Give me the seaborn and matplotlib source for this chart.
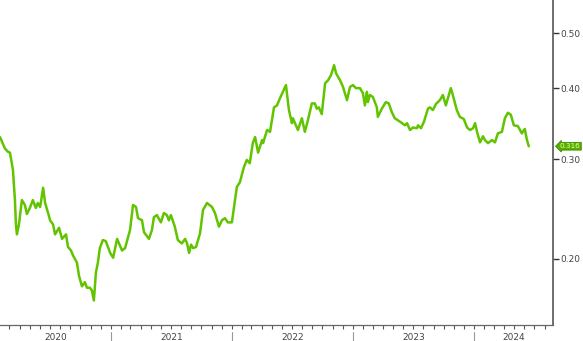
import matplotlib
matplotlib.use("Agg")
import matplotlib.pyplot as plt
import matplotlib.dates as mdates
import matplotlib.ticker as mticker
import matplotlib.transforms as mtransforms
import seaborn as sns
import pandas as pd

dates = [
    "2020-02-02", "2020-02-17", "2020-02-26", "2020-03-03", "2020-03-12", "2020-03-18", "2020-03-21",
    "2020-03-24", "2020-03-30", "2020-04-08", "2020-04-17", "2020-04-23", "2020-05-02", "2020-05-11",
    "2020-05-20", "2020-05-26", "2020-06-02", "2020-06-11", "2020-06-17", "2020-06-26", "2020-07-02",
    "2020-07-11", "2020-07-17", "2020-07-29", "2020-08-07", "2020-08-19", "2020-08-25", "2020-09-03",
    "2020-09-09", "2020-09-21", "2020-09-27", "2020-10-06", "2020-10-15", "2020-10-21", "2020-10-30",
    "2020-11-05", "2020-11-11", "2020-11-17", "2020-11-23", "2020-11-29", "2020-12-08", "2020-12-17",
    "2020-12-30", "2021-01-08", "2021-01-20", "2021-02-04", "2021-02-13", "2021-02-28", "2021-03-09",
    "2021-03-18", "2021-03-24", "2021-04-05", "2021-04-11", "2021-04-26", "2021-05-05", "2021-05-11",
    "2021-05-20", "2021-06-01", "2021-06-10", "2021-06-19", "2021-06-25", "2021-07-01", "2021-07-13",
    "2021-07-22", "2021-08-03", "2021-08-13", "2021-08-19", "2021-08-25", "2021-08-31", "2021-09-06",
    "2021-09-15", "2021-09-27", "2021-10-06", "2021-10-18", "2021-11-02", "2021-11-11", "2021-11-23",
    "2021-12-02", "2021-12-11", "2021-12-20", "2022-01-01", "2022-01-16", "2022-01-25", "2022-02-06",
    "2022-02-15", "2022-02-24", "2022-03-05", "2022-03-12", "2022-03-21", "2022-04-02", "2022-04-05",
    "2022-04-17", "2022-04-26", "2022-05-08", "2022-05-17", "2022-05-26", "2022-06-13", "2022-06-22",
    "2022-07-01", "2022-07-04", "2022-07-16", "2022-07-19", "2022-07-31", "2022-08-09", "2022-08-18",
    "2022-08-30", "2022-09-08", "2022-09-14", "2022-09-20", "2022-09-29", "2022-10-09", "2022-10-18",
    "2022-10-27", "2022-11-05", "2022-11-11", "2022-11-23", "2022-12-02", "2022-12-14", "2022-12-23",
    "2023-01-01", "2023-01-10", "2023-01-22", "2023-01-31", "2023-02-06", "2023-02-12", "2023-02-15",
    "2023-02-21", "2023-03-02", "2023-03-14", "2023-03-17", "2023-03-29", "2023-04-10", "2023-04-19",
    "2023-04-28", "2023-05-07", "2023-05-23", "2023-06-07", "2023-06-13", "2023-06-22", "2023-07-01",
    "2023-07-13", "2023-07-16", "2023-07-25", "2023-08-03", "2023-08-15", "2023-08-21", "2023-08-30",
    "2023-09-08", "2023-09-20", "2023-09-29", "2023-10-08", "2023-10-23", "2023-10-29", "2023-11-10",
    "2023-11-19", "2023-12-01", "2023-12-11", "2023-12-20", "2023-12-29", "2024-01-04", "2024-01-10",
    "2024-01-19", "2024-01-28", "2024-02-03", "2024-02-12", "2024-02-24", "2024-03-04", "2024-03-13",
    "2024-03-25", "2024-04-03", "2024-04-12", "2024-04-21", "2024-04-30", "2024-05-12", "2024-05-24",
    "2024-06-02", "2024-06-08", "2024-06-14",
]

values = [
    0.328, 0.313, 0.309, 0.308, 0.287, 0.254, 0.230,
    0.221, 0.230, 0.254, 0.249, 0.240, 0.246, 0.254,
    0.246, 0.251, 0.247, 0.267, 0.251, 0.241, 0.234,
    0.230, 0.221, 0.227, 0.217, 0.221, 0.210, 0.207,
    0.203, 0.197, 0.187, 0.179, 0.182, 0.178, 0.178,
    0.176, 0.169, 0.189, 0.197, 0.209, 0.216, 0.215,
    0.205, 0.201, 0.217, 0.207, 0.209, 0.225, 0.249,
    0.247, 0.236, 0.234, 0.223, 0.217, 0.225, 0.237,
    0.239, 0.232, 0.241, 0.239, 0.234, 0.239, 0.228,
    0.216, 0.213, 0.217, 0.213, 0.205, 0.212, 0.209,
    0.210, 0.222, 0.244, 0.251, 0.247, 0.241, 0.228,
    0.234, 0.236, 0.232, 0.232, 0.268, 0.273, 0.290,
    0.299, 0.295, 0.320, 0.328, 0.308, 0.324, 0.320,
    0.3375, 0.335, 0.370, 0.373, 0.384, 0.405, 0.366,
    0.347, 0.354, 0.341, 0.3375, 0.354, 0.335, 0.351,
    0.376, 0.376, 0.368, 0.370, 0.360, 0.408, 0.413,
    0.422, 0.439, 0.425, 0.413, 0.402, 0.381, 0.402,
    0.405, 0.400, 0.400, 0.392, 0.373, 0.394, 0.378,
    0.389, 0.386, 0.370, 0.356, 0.368, 0.378, 0.376,
    0.363, 0.354, 0.349, 0.344, 0.347, 0.3375, 0.341,
    0.340, 0.344, 0.340, 0.349, 0.368, 0.370, 0.366,
    0.375, 0.381, 0.389, 0.373, 0.400, 0.389, 0.366,
    0.356, 0.353, 0.341, 0.3375, 0.340, 0.347, 0.335,
    0.321, 0.329, 0.324, 0.320, 0.324, 0.321, 0.333,
    0.335, 0.354, 0.362, 0.359, 0.344, 0.343, 0.333,
    0.339, 0.325, 0.316,
]

y_ticks = [0.20, 0.30, 0.40, 0.50]
y_tick_labels = ["0.20", "0.30", "0.40", "0.50"]
years = [2020, 2021, 2022, 2023, 2024]
x_start = "2020-02-02"
x_end = "2024-08-26"
last_label = "0.316"

df = pd.DataFrame({"date": pd.to_datetime(dates), "value": values})

sns.set_style("white")
plt.rcParams["font.family"] = ["DejaVu Sans"]

fig = plt.figure(figsize=(5.83, 3.41), dpi=100)
ax = fig.add_axes([0.0, 16 / 341, 553 / 583, 325 / 341])

line_color = "#62c400"
sns.lineplot(data=df, x="date", y="value", ax=ax, color=line_color, linewidth=1.8)

ax.set_yscale("log")
ax.set_ylim(0.153, 0.572)
xs, xe = pd.Timestamp(x_start), pd.Timestamp(x_end)
ax.set_xlim(xs, xe)

ax.yaxis.tick_right()
ax.yaxis.set_major_locator(mticker.FixedLocator(y_ticks))
ax.yaxis.set_major_formatter(mticker.FixedFormatter(y_tick_labels))
ax.yaxis.set_minor_locator(mticker.NullLocator())
ax.tick_params(axis="y", which="major", direction="out", length=4, width=1,
               color="#333333", labelsize=6.5, labelcolor="#444444", pad=1.5,
               right=True, left=False)

ax.xaxis.set_major_locator(mticker.NullLocator())
ax.xaxis.set_minor_locator(mdates.MonthLocator())
ax.tick_params(axis="x", which="minor", direction="out", length=3, width=0.8,
               color="#555555", bottom=True)
ax.set_xlabel("")
ax.set_ylabel("")

for side in ["top", "left"]:
    ax.spines[side].set_visible(False)
ax.spines["right"].set_color("#555555")
ax.spines["right"].set_linewidth(1.2)
ax.spines["bottom"].set_color("#666666")
ax.spines["bottom"].set_linewidth(0.9)

trans = mtransforms.blended_transform_factory(ax.transData, ax.transAxes)
for yr in years:
    start = max(pd.Timestamp(f"{yr}-01-01"), xs)
    end = min(pd.Timestamp(f"{yr + 1}-01-01"), xe)
    if yr > years[0]:
        ax.plot([pd.Timestamp(f"{yr}-01-01")] * 2, [-0.022, -0.06], transform=trans,
                color="#999999", linewidth=0.8, clip_on=False)
    mid = start + (end - start) / 2
    ax.text(mid, -0.038, str(yr), transform=trans, ha="center", va="center",
            fontsize=6.5, color="#444444", clip_on=False)

ax.text(1.012, values[-1], last_label,
        transform=mtransforms.blended_transform_factory(ax.transAxes, ax.transData),
        ha="left", va="center", fontsize=5.2, color="#eaff9a",
        bbox=dict(boxstyle="larrow,pad=0.12", fc="#55b000", ec="#3d8a00", lw=0.6),
        clip_on=False)

fig.savefig("out.png", dpi=100, facecolor="white")
